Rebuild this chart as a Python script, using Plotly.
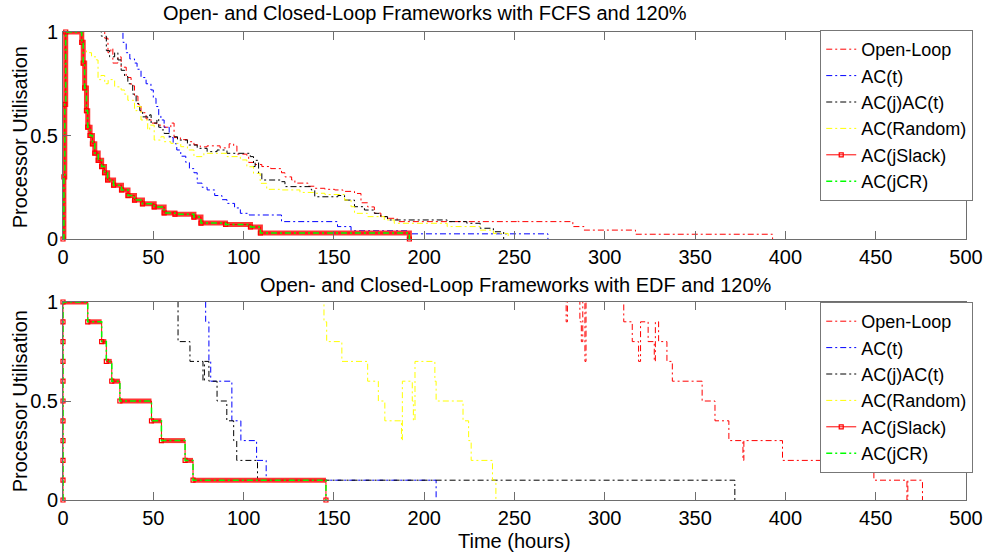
import plotly.graph_objects as go

# ---------------- data: top panel (FCFS, 120%) ----------------
top_open_x = [0, 1, 23.1, 24.9, 26.5, 27.6, 30.4, 32.2, 35, 37.7, 39.6, 41.5, 43.2, 46, 48.7, 52, 56, 59.7, 61.5, 65, 68.9, 72.5, 76, 79.8, 87, 92, 94.5, 96.3, 101.8, 102.8, 106, 110.1, 115, 121, 122.9, 126.6, 128.4, 135.7, 139.4, 145, 150.4, 155, 161.4, 165, 168.7, 172.4, 176, 179.7, 185, 251, 252, 282.3, 288.5, 317, 392.9]
top_open_y = [0, 1.3, 0.97, 0.9, 0.92, 0.85, 0.88, 0.83, 0.78, 0.74, 0.69, 0.65, 0.61, 0.58, 0.56, 0.55, 0.54, 0.56, 0.49, 0.48, 0.47, 0.455, 0.445, 0.45, 0.44, 0.46, 0.45, 0.41, 0.40, 0.37, 0.36, 0.35, 0.34, 0.32, 0.30, 0.285, 0.27, 0.255, 0.245, 0.24, 0.237, 0.23, 0.22, 0.175, 0.155, 0.125, 0.108, 0.10, 0.084, 0.09, 0.084, 0.06, 0.043, 0.023, 0]

top_act_x = [0, 1, 33.2, 35, 37, 39.6, 41, 43.2, 46, 48.7, 50, 51.5, 53, 54.2, 56, 58.8, 61, 63, 65.2, 68, 70, 72.5, 74.3, 77, 79.8, 84, 88, 90.8, 95, 98.2, 103, 121, 152, 159.5, 190.7, 268.5]
top_act_y = [0, 1.3, 0.95, 0.9, 0.87, 0.85, 0.82, 0.78, 0.75, 0.72, 0.68, 0.64, 0.60, 0.575, 0.54, 0.49, 0.46, 0.43, 0.40, 0.37, 0.34, 0.32, 0.27, 0.25, 0.237, 0.21, 0.19, 0.172, 0.15, 0.124, 0.116, 0.084, 0.06, 0.04, 0.025, 0]

top_jact_x = [0, 1, 21.2, 24, 25.8, 28.6, 30.4, 32.2, 34.1, 35.9, 38.6, 40.5, 42.5, 44.1, 46.9, 48, 48.8, 50.5, 52, 53, 54.2, 56, 58.8, 63.4, 68.9, 74.3, 79.8, 85.3, 90.8, 103.7, 105.5, 106.4, 108.3, 110.1, 121, 122.9, 137.5, 139.4, 152.2, 155.9, 161.4, 166.9, 172.4, 176, 179.7, 212.7, 223.6, 231, 238.3, 244]
top_jact_y = [0, 1.3, 0.98, 0.91, 0.88, 0.90, 0.865, 0.815, 0.785, 0.75, 0.70, 0.655, 0.62, 0.59, 0.575, 0.60, 0.56, 0.56, 0.58, 0.54, 0.527, 0.51, 0.494, 0.478, 0.454, 0.438, 0.422, 0.43, 0.414, 0.398, 0.35, 0.38, 0.317, 0.285, 0.277, 0.253, 0.237, 0.204, 0.21, 0.188, 0.156, 0.14, 0.124, 0.108, 0.092, 0.084, 0.076, 0.052, 0.035, 0]

top_rand_x = [0, 1, 10.3, 11.2, 13, 15.8, 18.5, 19.4, 21, 23.1, 25, 28.6, 32.2, 34, 35.9, 39.6, 41, 43.2, 46.9, 48, 50.5, 54.2, 56, 59.7, 65.2, 68.9, 72.5, 78, 87.2, 90.8, 98.2, 101.8, 105.5, 109.2, 112.8, 120, 131.2, 139.4, 145, 155.9, 159.5, 161.4, 168.7, 177.9, 183.4, 212.7, 231, 238.3, 246.5]
top_rand_y = [0, 1.3, 0.99, 0.91, 0.90, 0.88, 0.865, 0.77, 0.79, 0.75, 0.77, 0.735, 0.72, 0.70, 0.67, 0.62, 0.64, 0.575, 0.527, 0.55, 0.478, 0.494, 0.47, 0.462, 0.446, 0.43, 0.398, 0.414, 0.414, 0.398, 0.382, 0.349, 0.317, 0.269, 0.24, 0.237, 0.225, 0.221, 0.215, 0.188, 0.156, 0.124, 0.108, 0.092, 0.076, 0.06, 0.043, 0.027, 0]

top_jslack_x = [0, 0.5, 1, 1.5, 10.4, 11.2, 12, 13, 13.7, 15, 16.3, 17.6, 19.5, 21.4, 23, 24.7, 28, 32.4, 36, 39.6, 44, 50.5, 56, 62, 72.5, 76.4, 90, 103.8, 109.3, 191.8]
top_jslack_y = [0, 0.3, 0.65, 1.0, 0.95, 0.85, 0.73, 0.62, 0.54, 0.5, 0.46, 0.415, 0.38, 0.35, 0.32, 0.285, 0.26, 0.237, 0.21, 0.188, 0.17, 0.155, 0.126, 0.12, 0.106, 0.077, 0.07, 0.058, 0.029, 0]
top_jcr_x = list(top_jslack_x)
top_jcr_y = list(top_jslack_y)

# ---------------- data: bottom panel (EDF, 120%) ----------------
bot_open_x = [0, 278.6, 279.3, 286.2, 287.0, 287.8, 289.0, 289.6, 310.5, 315.2, 318.7, 319.8, 324, 327.4, 328, 329.8, 334.4, 337.4, 353.9, 361, 368.7, 376.5, 377, 398.4, 449, 467.3, 467.8, 475.9]
bot_open_y = [1.2, 0.9, 1.2, 0.9, 0.8, 1.2, 0.7, 1.2, 0.9, 0.8, 0.7, 0.9, 0.8, 0.7, 0.9, 0.8, 0.7, 0.6, 0.5, 0.4, 0.3, 0.2, 0.3, 0.2, 0.1, 0, 0.1, 0]

bot_act_x = [0, 79, 80.8, 81.8, 93.5, 98.5, 107.2, 112.5, 206.6]
bot_act_y = [1.2, 0.9, 0.7, 0.6, 0.4, 0.3, 0.2, 0.1, 0]

bot_jact_x = [0, 63.7, 70.3, 77.5, 78.3, 80.8, 85.3, 90.7, 94.5, 96.2, 107.7, 372]
bot_jact_y = [1.2, 0.8, 0.7, 0.6, 0.7, 0.6, 0.5, 0.4, 0.3, 0.2, 0.1, 0]

bot_rand_x = [0, 144.5, 146, 154.4, 168.7, 174.6, 178.2, 187.4, 187.9, 193.4, 194, 194.9, 205.9, 206.6, 221.5, 224.6, 226, 237.8, 239.7]
bot_rand_y = [1.2, 0.9, 0.8, 0.7, 0.6, 0.5, 0.4, 0.3, 0.6, 0.5, 0.4, 0.7, 0.6, 0.5, 0.4, 0.3, 0.2, 0.1, 0]

bot_jslack_x = [0, 0, 0, 0, 0, 0, 0, 0, 0, 0, 0, 13.7, 21.4, 24, 27, 31.5, 49, 54.5, 67.6, 72, 145.6]
bot_jslack_y = [0, 0.1, 0.2, 0.3, 0.4, 0.5, 0.6, 0.7, 0.8, 0.9, 1.0, 0.9, 0.8, 0.7, 0.6, 0.5, 0.4, 0.3, 0.2, 0.1, 0]
bot_jcr_x = [0, 0, 13.7, 21.4, 24, 27, 31.5, 49, 54.5, 67.6, 72, 145.6]
bot_jcr_y = [0, 1.0, 0.9, 0.8, 0.7, 0.6, 0.5, 0.4, 0.3, 0.2, 0.1, 0]

labels = ["Open-Loop", "AC(t)", "AC(j)AC(t)", "AC(Random)", "AC(jSlack)", "AC(jCR)"]
x_ticks = [0, 50, 100, 150, 200, 250, 300, 350, 400, 450, 500]
y_ticks = [0, 0.5, 1]
titles = ["Open- and Closed-Loop Frameworks with FCFS and 120%",
          "Open- and Closed-Loop Frameworks with EDF and 120%"]

# ---------------- styles ----------------
FONT = "Liberation Sans, Arial, Helvetica, sans-serif"
DASH = "6px,3px,2px,3px"
COL = {"open": "#ff0000", "act": "#0000ff", "jact": "#000000",
       "rand": "#ffff00", "jslack": "#ff0000", "jcr": "#00ff00"}

fig = go.Figure()


def horiz_segments(xs, ys):
    sx, sy = [], []
    for i in range(len(xs) - 1):
        if xs[i + 1] > xs[i]:
            sx += [xs[i], xs[i + 1], None]
            sy += [ys[i], ys[i], None]
    return sx, sy


def add_panel(xa, ya, leg, data, band_full):
    (ox, oy), (ax, ay), (jx, jy), (rx, ry), (sx, sy), (cx, cy) = data
    fig.add_trace(go.Scatter(x=ox, y=oy, mode="lines", line_shape="hv", name=labels[0],
                             line=dict(color=COL["open"], width=1, dash=DASH),
                             xaxis=xa, yaxis=ya, legend=leg))
    fig.add_trace(go.Scatter(x=ax, y=ay, mode="lines", line_shape="hv", name=labels[1],
                             line=dict(color=COL["act"], width=1, dash=DASH),
                             xaxis=xa, yaxis=ya, legend=leg))
    fig.add_trace(go.Scatter(x=jx, y=jy, mode="lines", line_shape="hv", name=labels[2],
                             line=dict(color=COL["jact"], width=1, dash=DASH),
                             xaxis=xa, yaxis=ya, legend=leg))
    fig.add_trace(go.Scatter(x=rx, y=ry, mode="lines", line_shape="hv", name=labels[3],
                             line=dict(color=COL["rand"], width=1, dash=DASH),
                             xaxis=xa, yaxis=ya, legend=leg))
    # thick marker band of AC(jSlack)
    if band_full:
        bx, by = sx, sy
        shape = "hv"
    else:
        bx, by = horiz_segments(sx, sy)
        shape = "linear"
    fig.add_trace(go.Scatter(x=bx, y=by, mode="lines", line_shape=shape, showlegend=False,
                             line=dict(color="rgba(255,30,30,0.9)", width=5),
                             hoverinfo="skip", xaxis=xa, yaxis=ya, legend=leg))
    fig.add_trace(go.Scatter(x=sx, y=sy, mode="lines+markers", line_shape="hv", name=labels[4],
                             line=dict(color=COL["jslack"], width=1),
                             marker=dict(symbol="square-open", size=4, color=COL["jslack"],
                                         line=dict(width=1.2, color=COL["jslack"])),
                             cliponaxis=False,
                             xaxis=xa, yaxis=ya, legend=leg))
    fig.add_trace(go.Scatter(x=cx, y=cy, mode="lines", line_shape="hv", name=labels[5],
                             line=dict(color=COL["jcr"], width=1.5, dash=DASH),
                             xaxis=xa, yaxis=ya, legend=leg))


add_panel("x", "y", "legend",
          [(top_open_x, top_open_y), (top_act_x, top_act_y), (top_jact_x, top_jact_y),
           (top_rand_x, top_rand_y), (top_jslack_x, top_jslack_y), (top_jcr_x, top_jcr_y)],
          True)
add_panel("x2", "y2", "legend2",
          [(bot_open_x, bot_open_y), (bot_act_x, bot_act_y), (bot_jact_x, bot_jact_y),
           (bot_rand_x, bot_rand_y), (bot_jslack_x, bot_jslack_y), (bot_jcr_x, bot_jcr_y)],
          False)

AX = "#6e6e6e"
xcommon = dict(range=[0, 500], tickvals=x_ticks, ticktext=[str(v) for v in x_ticks],
               ticks="inside", ticklen=8, tickcolor=AX, showline=True, linecolor=AX,
               linewidth=1, mirror="ticks", showgrid=False, zeroline=False,
               tickfont=dict(family=FONT, size=20, color="black"))
ycommon = dict(range=[0, 1], tickvals=y_ticks, ticktext=["0", "0.5", "1"],
               ticks="inside", ticklen=8, tickcolor=AX, showline=True, linecolor=AX,
               linewidth=1, mirror="ticks", showgrid=False, zeroline=False,
               tickfont=dict(family=FONT, size=20, color="black"))

legcommon = dict(font=dict(family=FONT, size=18, color="black"), bgcolor="white",
                 bordercolor="#777777", borderwidth=1, xanchor="right", yanchor="top",
                 itemwidth=30, tracegroupgap=0)


def px2x(px):
    return (px - 63) / 910.0


def py2y(py):
    return (500 - py) / 468.0


annotations = [
    dict(text=titles[0], x=px2x(162), y=py2y(13), xanchor="left", yanchor="middle"),
    dict(text=titles[1], x=px2x(260), y=py2y(285), xanchor="left", yanchor="middle"),
    dict(text="Processor Utilisation", x=px2x(20), y=py2y(137), textangle=-90,
         xanchor="center", yanchor="middle"),
    dict(text="Processor Utilisation", x=px2x(20), y=py2y(401), textangle=-90,
         xanchor="center", yanchor="middle"),
    dict(text="Time (hours)", x=px2x(518), y=py2y(541), xanchor="center", yanchor="middle"),
]
for a in annotations:
    a.update(xref="paper", yref="paper", showarrow=False,
             font=dict(family=FONT, size=20, color="black"))

fig.update_layout(
    width=995, height=552,
    margin=dict(l=63, r=22, t=32, b=52),
    paper_bgcolor="white", plot_bgcolor="white",
    font=dict(family=FONT, size=20, color="black"),
    xaxis=dict(domain=[0, 1], anchor="y", **xcommon),
    yaxis=dict(domain=[py2y(239), 1], anchor="x", **ycommon),
    xaxis2=dict(domain=[0, 1], anchor="y2", **xcommon),
    yaxis2=dict(domain=[0, py2y(302)], anchor="x2", **ycommon),
    legend=dict(x=1.008, y=py2y(30), **legcommon),
    legend2=dict(x=1.008, y=py2y(302), **legcommon),
    annotations=annotations,
    showlegend=True,
)

fig.write_html("out.html")
